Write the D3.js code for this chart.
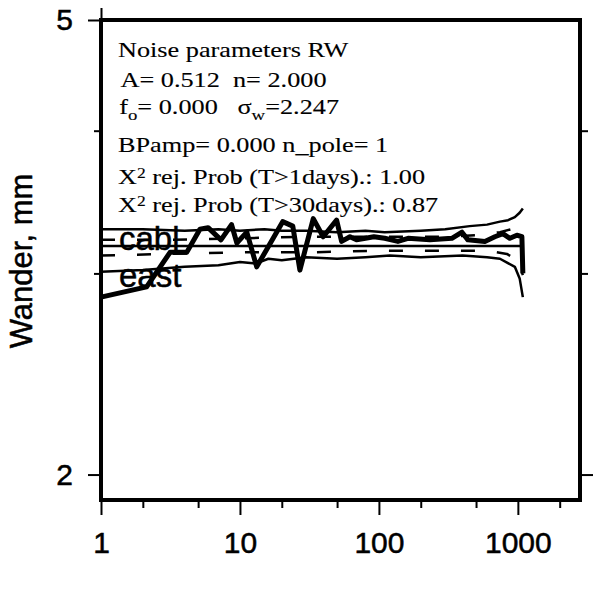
<!DOCTYPE html>
<html>
<head>
<meta charset="utf-8">
<script src="https://cdn.jsdelivr.net/npm/d3@7"></script>
<style>
  body { margin: 0; background: #fff; }
  svg { display: block; }
  .axis text { font-family: "Liberation Sans", Arial, sans-serif; font-size: 30px; fill: #000; stroke: #000; stroke-width: 0.5; }
  .axis line { stroke: #000; stroke-width: 2; }
  .info { font-family: "Liberation Serif", "Times New Roman", serif; font-size: 21px; fill: #000; stroke: #000; stroke-width: 0.12; }
  .comp { font-family: "Liberation Sans", Arial, sans-serif; font-size: 33px; fill: #000; stroke: #000; stroke-width: 0.5; }
</style>
</head>
<body>
<div id="chart"></div>
<script>
// wander of the data (thick line)
var dataX = [1, 2.13, 3.14, 4.14, 5.15, 5.9, 7.3, 8.7, 9.5, 11.2, 13.2, 20.3, 24, 27, 33.7, 39.7, 49.6, 53.9, 61.9, 69, 80, 92, 110, 137, 162, 233, 335, 396, 437, 579, 683, 780, 876, 984, 1069, 1086];
var dataY = [2.86, 2.92, 3.13, 3.13, 3.28, 3.29, 3.21, 3.31, 3.19, 3.26, 3.04, 3.33, 3.30, 3.02, 3.35, 3.23, 3.34, 3.20, 3.23, 3.21, 3.22, 3.23, 3.22, 3.20, 3.22, 3.21, 3.22, 3.26, 3.21, 3.20, 3.23, 3.25, 3.22, 3.24, 3.23, 3.00];

// noise model curves (thin lines)
var upperX = [1, 2, 4, 7, 10, 15, 20, 30, 50, 80, 110, 200, 300, 450, 600, 743, 850, 951, 1030, 1086];
var upperY = [3.28, 3.28, 3.27, 3.28, 3.27, 3.28, 3.27, 3.27, 3.26, 3.27, 3.26, 3.27, 3.28, 3.30, 3.31, 3.33, 3.34, 3.36, 3.39, 3.42];

var upperDashX = [1, 3, 10, 30, 100, 300, 500, 743, 900, 1000, 1086];
var upperDashY = [3.21, 3.21, 3.22, 3.23, 3.23, 3.23, 3.24, 3.26, 3.28, 3.30, 3.32];

var centerX = [1, 10, 100, 1000, 1086];
var centerY = [3.17, 3.17, 3.17, 3.17, 3.17];

var lowerDashX = [1, 3, 10, 30, 100, 300, 600, 834, 1000, 1086];
var lowerDashY = [3.11, 3.12, 3.13, 3.13, 3.14, 3.14, 3.14, 3.12, 3.08, 2.99];

var lowerX = [1, 2, 4, 7, 10, 13, 16, 20, 30, 50, 80, 120, 200, 400, 600, 743, 951, 1030, 1086];
var lowerY = [3.01, 3.02, 3.04, 3.05, 3.07, 3.06, 3.09, 3.08, 3.10, 3.09, 3.10, 3.11, 3.10, 3.11, 3.10, 3.09, 3.04, 2.97, 2.86];

// ticks
var xTicksMajor = [1, 10, 100, 1000];
var xTicksMinor = [2, 5, 20, 50, 200, 500, 2000];
var yTicksMajor = [2, 5];
var yTicksMinor = [3, 4];

var width = 593, height = 604;
var margin = { top: 20, right: 13, bottom: 104, left: 101 };

var svg = d3.select("#chart").append("svg")
  .attr("width", width)
  .attr("height", height);

var x = d3.scaleLog()
  .domain([1, 2800])
  .range([margin.left, width - margin.right]);

var y = d3.scaleLog()
  .domain([1.9, 5])
  .range([height - margin.bottom, margin.top]);

// axes
function axisG(axis, tx, ty) {
  var g = svg.append("g")
    .attr("class", "axis")
    .attr("transform", `translate(${tx},${ty})`)
    .call(axis);
  g.select(".domain").remove();
  return g;
}

axisG(d3.axisBottom(x).tickValues(xTicksMajor).tickSize(15).tickPadding(17).tickFormat(d3.format("d")), 0, y.range()[0]);
axisG(d3.axisBottom(x).tickValues(xTicksMinor).tickSize(8).tickFormat(""), 0, y.range()[0]);
axisG(d3.axisTop(x).tickValues([1]).tickSize(12).tickFormat(""), 0, y.range()[1]);

axisG(d3.axisLeft(y).tickValues(yTicksMajor).tickSize(13).tickPadding(15).tickFormat(d3.format("d")), x.range()[0], 0);
axisG(d3.axisLeft(y).tickValues(yTicksMinor).tickSize(7).tickFormat(""), x.range()[0], 0);
axisG(d3.axisRight(y).tickValues([2]).tickSize(13).tickFormat(""), x.range()[1], 0);
axisG(d3.axisRight(y).tickValues(yTicksMinor).tickSize(8).tickFormat(""), x.range()[1], 0);

// frame
svg.append("rect")
  .attr("x", x.range()[0])
  .attr("y", y.range()[1])
  .attr("width", x.range()[1] - x.range()[0])
  .attr("height", y.range()[0] - y.range()[1])
  .attr("fill", "none")
  .attr("stroke", "#000")
  .attr("stroke-width", 4);

// y title
svg.append("text")
  .attr("transform", "translate(32," + ((y.range()[0] + y.range()[1]) / 2 + 1) + ") rotate(-90)")
  .attr("text-anchor", "middle")
  .style("font-family", '"Liberation Sans", Arial, sans-serif')
  .style("font-size", "31px")
  .style("stroke", "#000")
  .style("stroke-width", 0.5)
  .text("Wander, mm");

// lines
var line = d3.line()
  .x(d => x(d[0]))
  .y(d => y(d[1]));

function addLine(xs, ys, w, dash) {
  svg.append("path")
    .datum(d3.zip(xs, ys))
    .attr("fill", "none")
    .attr("stroke", "#000")
    .attr("stroke-width", w)
    .attr("stroke-linejoin", "round")
    .attr("stroke-dasharray", dash || null)
    .attr("d", line);
}

addLine(upperX, upperY, 2.5);
addLine(upperDashX, upperDashY, 2.5, "14,22");
addLine(centerX, centerY, 2.5);
addLine(lowerDashX, lowerDashY, 2.5, "14,22");
addLine(lowerX, lowerY, 2.5);

// component labels
svg.append("text").attr("class", "comp")
  .attr("x", x.range()[0] + 18).attr("y", 250).text("cabl");
svg.append("text").attr("class", "comp")
  .attr("x", x.range()[0] + 18).attr("y", 287).text("east");

addLine(dataX, dataY, 5);

// noise parameter text block
var info = svg.append("g")
  .attr("transform", "translate(118,0) scale(1.25,1)");

function infoLine(yy, dx, parts) {
  var t = info.append("text")
    .attr("class", "info")
    .attr("x", dx)
    .attr("y", yy)
    .attr("xml:space", "preserve")
    .style("white-space", "pre");
  parts.forEach(function (p) {
    var s = t.append("tspan").text(p.t);
    if (p.sub) s.attr("dy", 6).style("font-size", "15px");
    if (p.sup) s.attr("dy", -6).style("font-size", "14px");
    if (p.back) s.attr("dy", p.back);
  });
}

infoLine(57, 0, [{ t: "Noise parameters RW" }]);
infoLine(87, 2, [{ t: "A= 0.512  n= 2.000" }]);
infoLine(114, 1, [
  { t: "f" }, { t: "o", sub: true }, { t: "= 0.000   \u03c3", back: -6 },
  { t: "w", sub: true }, { t: "=2.247", back: -6 }
]);
infoLine(152, 0, [{ t: "BPamp= 0.000 n_pole= 1" }]);
infoLine(184, 0, [{ t: "X" }, { t: "2", sup: true }, { t: " rej. Prob (T>1days).: 1.00", back: 6 }]);
infoLine(212, 0, [{ t: "X" }, { t: "2", sup: true }, { t: " rej. Prob (T>30days).: 0.87", back: 6 }]);
</script>
</body>
</html>
